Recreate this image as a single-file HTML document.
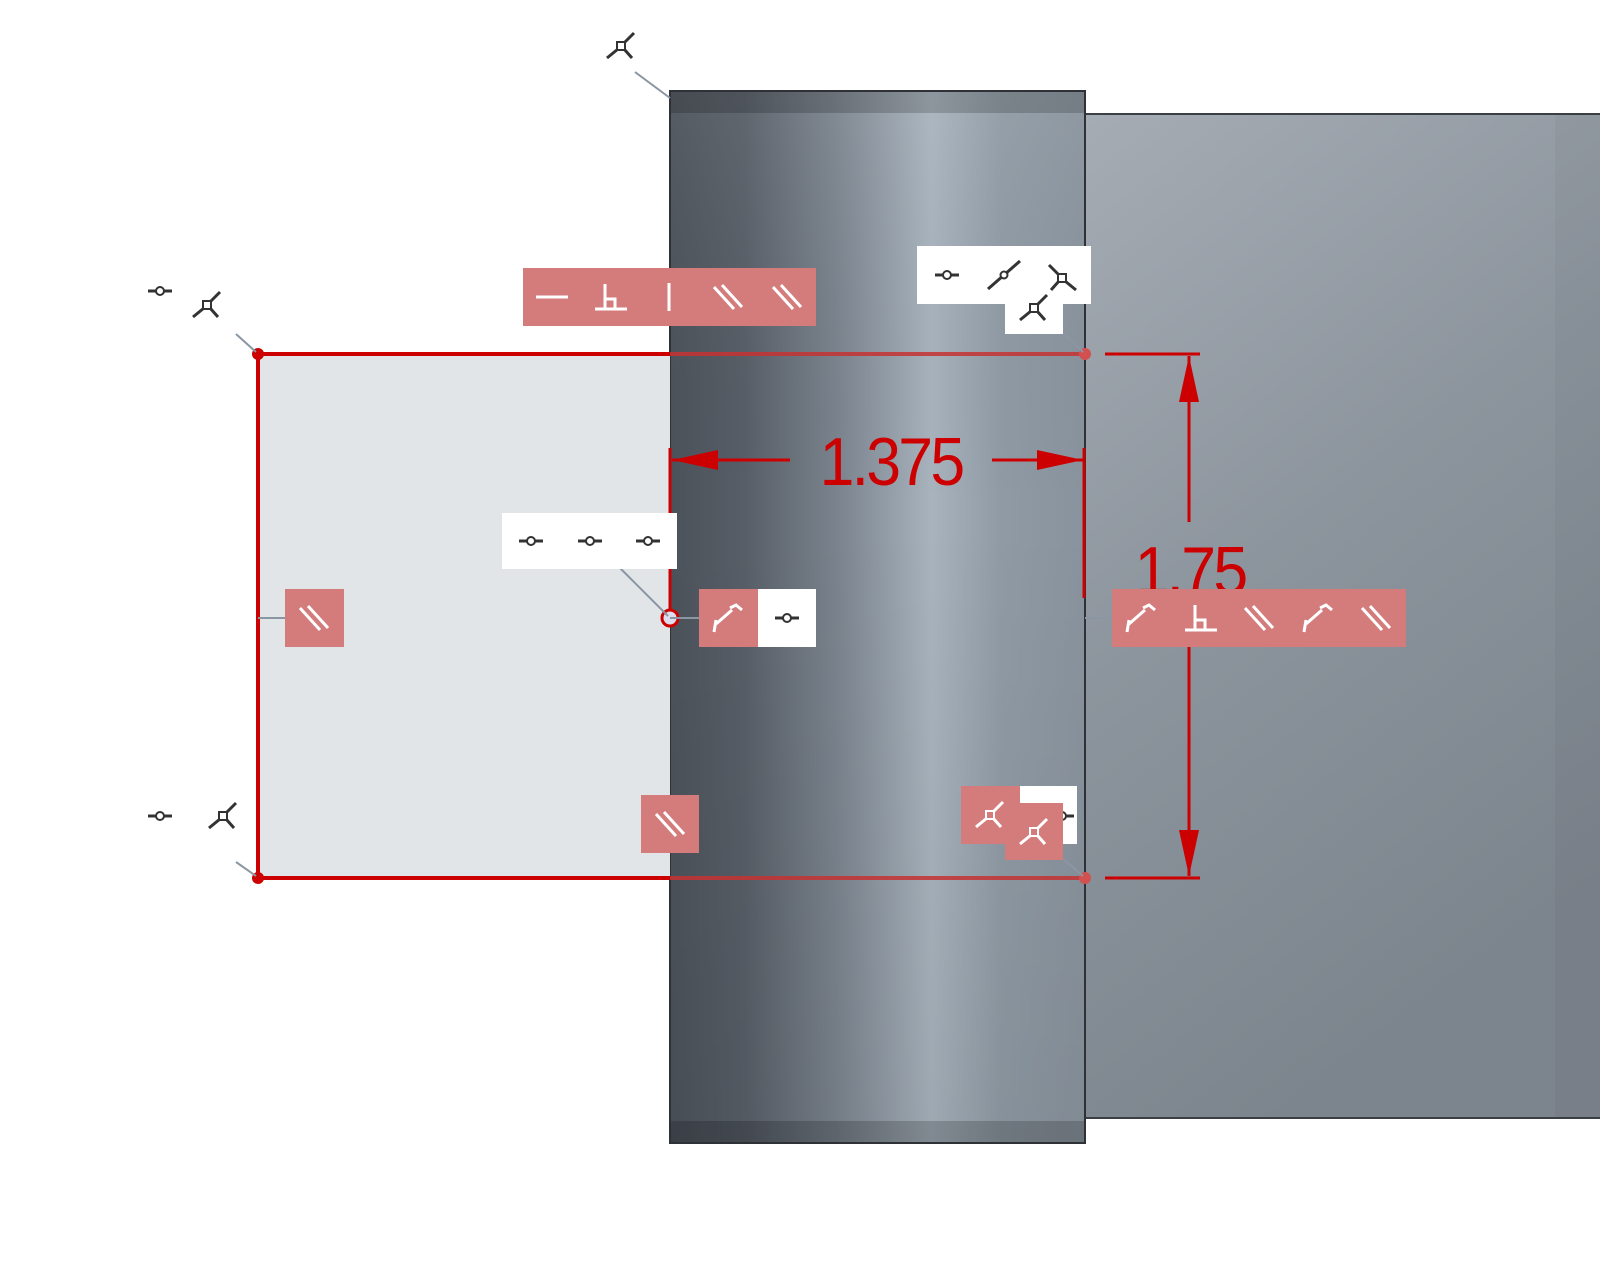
<!DOCTYPE html>
<html><head><meta charset="utf-8"><style>
html,body{margin:0;padding:0;background:#fff;width:1600px;height:1277px;overflow:hidden}
svg{display:block}
</style></head><body>
<svg width="1600" height="1277" viewBox="0 0 1600 1277" xmlns="http://www.w3.org/2000/svg">
<defs>
<linearGradient id="cyl" x1="0" x2="1" y1="0" y2="0">
<stop offset="0" stop-color="#4c525a"/>
<stop offset="0.18" stop-color="#575e67"/>
<stop offset="0.4" stop-color="#7a838d"/>
<stop offset="0.63" stop-color="#a8b3bd"/>
<stop offset="0.8" stop-color="#8f9aa4"/>
<stop offset="1" stop-color="#89939d"/>
</linearGradient>
<linearGradient id="cylv" x1="0" x2="0" y1="0" y2="1">
<stop offset="0" stop-color="#fff" stop-opacity="0.06"/>
<stop offset="0.4" stop-color="#000" stop-opacity="0"/>
<stop offset="1" stop-color="#000" stop-opacity="0.06"/>
</linearGradient>
<linearGradient id="blk" x1="0" x2="0.4" y1="0" y2="1">
<stop offset="0" stop-color="#a5acb4"/>
<stop offset="0.5" stop-color="#8c949d"/>
<stop offset="1" stop-color="#7c848d"/>
</linearGradient>
<g id="coin"><line x1="-12" y1="0" x2="12" y2="0" stroke="#333" stroke-width="3"/><circle r="4" fill="#fff" stroke="#333" stroke-width="2"/></g>
<g id="fix" stroke="#333" stroke-width="3" fill="none"><line x1="3" y1="-3" x2="13" y2="-13"/><line x1="-3" y1="3" x2="-14" y2="12"/><line x1="3" y1="3" x2="11" y2="12"/><rect x="-4" y="-4" width="8" height="8" fill="#fff" stroke-width="2"/></g>
<g id="fixw" stroke="#fff" stroke-width="3" fill="none"><line x1="3" y1="-3" x2="13" y2="-13"/><line x1="-3" y1="3" x2="-14" y2="12"/><line x1="3" y1="3" x2="11" y2="12"/><rect x="-4" y="-4" width="8" height="8" stroke-width="2"/></g>
<g id="par" stroke="#fff" stroke-width="3"><line x1="-14" y1="-10" x2="6" y2="12"/><line x1="-6" y1="-12" x2="14" y2="10"/></g>
<g id="perp" stroke="#fff" stroke-width="3" fill="none"><line x1="-16" y1="12" x2="16" y2="12"/><line x1="-6" y1="12" x2="-6" y2="-13"/><polyline points="-6,2 4,2 4,12"/></g>
<g id="tan" stroke="#fff" stroke-width="3" fill="none"><polyline points="-14,14 -12,2"/><line x1="-12" y1="6" x2="4" y2="-8"/><polyline points="2,-10 8,-13 14,-8"/></g>
<g id="bar" stroke="#fff" stroke-width="3"><line x1="0" y1="-14" x2="0" y2="14"/></g>
<g id="hz" stroke="#fff" stroke-width="3"><line x1="-16" y1="0" x2="16" y2="0"/></g>
<g id="coll" stroke="#333" stroke-width="3"><line x1="-16" y1="14" x2="16" y2="-14"/><circle r="3.5" fill="#fff" stroke-width="2"/></g>
</defs>

<rect x="1085" y="114" width="520" height="1004" fill="url(#blk)" stroke="#3a3f45" stroke-width="2"/>
<rect x="1555" y="114" width="45" height="1004" fill="#000" opacity="0.03"/>
<rect x="670" y="91" width="415" height="1052" fill="url(#cyl)"/>
<rect x="670" y="91" width="415" height="1052" fill="url(#cylv)"/>
<rect x="670" y="91" width="415" height="22" fill="#000" opacity="0.18"/>
<rect x="670" y="1121" width="415" height="22" fill="#000" opacity="0.18"/>
<rect x="670" y="91" width="415" height="1052" fill="none" stroke="#2e3237" stroke-width="2"/>

<rect x="258" y="354" width="412" height="524" fill="#e2e5e8"/>
<polyline points="670,354 258,354 258,878 670,878" fill="none" stroke="#cc0000" stroke-width="4"/>
<line x1="670" y1="354" x2="1085" y2="354" stroke="#c63333" stroke-width="4" opacity="0.85"/>
<line x1="670" y1="878" x2="1085" y2="878" stroke="#c63333" stroke-width="4" opacity="0.85"/>
<line x1="670" y1="448" x2="670" y2="610" stroke="#cc0000" stroke-width="3"/>
<line x1="1084" y1="448" x2="1084" y2="598" stroke="#cc0000" stroke-width="3"/>
<circle cx="258" cy="354" r="6" fill="#cc0000"/>
<circle cx="258" cy="878" r="6" fill="#cc0000"/>
<circle cx="1085" cy="354" r="6" fill="#d35050"/>
<circle cx="1085" cy="878" r="6" fill="#d35050"/>
<circle cx="670" cy="618" r="8" fill="#dde" stroke="#cc0000" stroke-width="3"/>

<line x1="672" y1="460" x2="790" y2="460" stroke="#cc0000" stroke-width="3"/>
<polygon points="672,460 718,450 718,470" fill="#cc0000"/>
<line x1="992" y1="460" x2="1083" y2="460" stroke="#cc0000" stroke-width="3"/>
<polygon points="1083,460 1037,450 1037,470" fill="#cc0000"/>
<text x="891" y="485" text-anchor="middle" font-family="Liberation Sans, sans-serif" font-size="68" fill="#cc0000" letter-spacing="-3" transform="translate(891,0) scale(0.92,1) translate(-891,0)">1.375</text>

<line x1="1105" y1="354" x2="1200" y2="354" stroke="#cc0000" stroke-width="3"/>
<line x1="1105" y1="878" x2="1200" y2="878" stroke="#cc0000" stroke-width="3"/>
<line x1="1189" y1="356" x2="1189" y2="522" stroke="#cc0000" stroke-width="3"/>
<line x1="1189" y1="645" x2="1189" y2="876" stroke="#cc0000" stroke-width="3"/>
<polygon points="1189,356 1179,402 1199,402" fill="#cc0000"/>
<polygon points="1189,876 1179,830 1199,830" fill="#cc0000"/>
<text x="1190" y="594" text-anchor="middle" font-family="Liberation Sans, sans-serif" font-size="68" fill="#cc0000" letter-spacing="-3" transform="translate(1190,0) scale(0.92,1) translate(-1190,0)">1.75</text>

<g stroke="#8a96a4" stroke-width="2">
<line x1="635" y1="72" x2="670" y2="98"/>
<line x1="236" y1="334" x2="256" y2="352"/>
<line x1="236" y1="862" x2="256" y2="876"/>
<line x1="620" y1="568" x2="668" y2="616"/>
<line x1="1063" y1="333" x2="1083" y2="352"/>
<line x1="1063" y1="859" x2="1083" y2="876"/>
<line x1="258" y1="618" x2="285" y2="618"/>
<line x1="670" y1="618" x2="699" y2="618"/>
<line x1="1085" y1="618" x2="1112" y2="618"/>
</g>

<use href="#fix" x="621" y="46"/>
<use href="#coin" x="160" y="291"/>
<use href="#fix" x="207" y="305"/>
<use href="#coin" x="160" y="816"/>
<use href="#fix" x="223" y="816"/>

<rect x="523" y="268" width="293" height="58" fill="#d47c7c"/>
<use href="#hz" x="552" y="297"/>
<use href="#perp" x="611" y="297"/>
<use href="#bar" x="669" y="297"/>
<use href="#par" x="728" y="297"/>
<use href="#par" x="787" y="297"/>

<rect x="917" y="246" width="174" height="58" fill="#fff"/>
<use href="#coin" x="947" y="275"/>
<use href="#coll" x="1004" y="275"/>
<g transform="translate(1062,278) scale(-1,1)"><use href="#fix"/></g>
<rect x="1005" y="300" width="58" height="34" fill="#fff"/>
<use href="#fix" x="1034" y="308"/>

<rect x="502" y="513" width="175" height="56" fill="#fff"/>
<use href="#coin" x="531" y="541"/>
<use href="#coin" x="590" y="541"/>
<use href="#coin" x="648" y="541"/>

<rect x="285" y="589" width="59" height="58" fill="#d47c7c"/>
<use href="#par" x="314" y="618"/>

<rect x="699" y="589" width="59" height="58" fill="#d47c7c"/>
<use href="#tan" x="728" y="618"/>
<rect x="758" y="589" width="58" height="58" fill="#fff"/>
<use href="#coin" x="787" y="618"/>

<rect x="1112" y="589" width="294" height="58" fill="#d47c7c"/>
<use href="#tan" x="1141" y="618"/>
<use href="#perp" x="1201" y="618"/>
<use href="#par" x="1259" y="618"/>
<use href="#tan" x="1318" y="618"/>
<use href="#par" x="1376" y="618"/>

<rect x="641" y="795" width="58" height="58" fill="#d47c7c"/>
<use href="#par" x="670" y="824"/>

<rect x="1018" y="786" width="59" height="58" fill="#fff"/>
<use href="#coin" x="1062" y="816"/>
<rect x="961" y="786" width="59" height="58" fill="#d47c7c"/>
<use href="#fixw" x="990" y="815"/>
<rect x="1005" y="803" width="58" height="57" fill="#d47c7c"/>
<use href="#fixw" x="1034" y="832"/>
</svg>
</body></html>
